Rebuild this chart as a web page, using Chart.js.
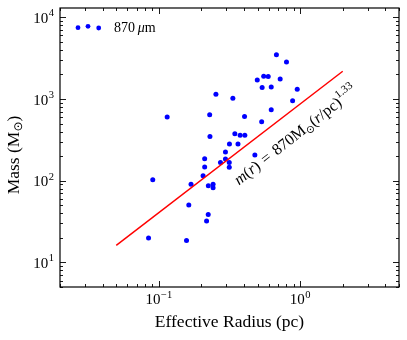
<!DOCTYPE html>
<html><head><meta charset="utf-8">
<script src="https://cdn.jsdelivr.net/npm/chart.js@4"></script>
<style>html,body{margin:0;padding:0;background:#fff}canvas{display:block}</style>
</head><body>
<canvas id="c" width="407" height="340"></canvas>
<script>
// ---- data ----
const radiusPc = [0.679, 0.800, 0.497, 0.552, 0.594, 0.722, 0.538, 0.624, 0.953, 0.2535,
  0.334, 0.884, 0.624, 0.229, 0.404, 0.1146, 0.534, 0.230, 0.345, 0.376,
  0.406, 0.316, 0.363, 0.478, 0.296, 0.211, 0.273, 0.296, 0.315, 0.211,
  0.315, 0.2056, 0.0906, 0.169, 0.224, 0.242, 0.242, 0.163, 0.2236, 0.2177,
  0.0846, 0.157];
const massMsun = [3486, 2838, 1708, 1901, 1891, 1762, 1387, 1406, 1318, 1145,
  1020, 953, 740, 642, 612, 602, 527, 348, 376, 360,
  360, 282, 282, 206, 224.6, 186, 167.5, 184.4, 167.5, 147,
  146.3, 115.1, 102.8, 90.6, 86.9, 90.6, 82.1, 50.4, 38.6, 32.1,
  19.9, 18.5];
const fitRadius = [0.05, 2.0];
const fitMass = [16.2, 2187];
const xTickExponents = [-1, 0];
const yTickExponents = [1, 2, 3, 4];
const xLimits = [0.02, 5];
const yLimits = [5, 13000];
const legendLabel = '870';

const SERIF = '"Liberation Serif", "DejaVu Serif", serif';

function expText(e) { return e < 0 ? '\u2212' + Math.abs(e) : String(e); }

function drawPow(ctx, exp, x, y, align) {
  const baseFont = '15px ' + SERIF, supFont = '10.5px ' + SERIF;
  ctx.font = baseFont; const bw = ctx.measureText('10').width;
  ctx.font = supFont; const ew = ctx.measureText(exp).width;
  const total = bw + 0.5 + ew;
  const x0 = align === 'center' ? x - total / 2 : x - total;
  ctx.textAlign = 'left'; ctx.textBaseline = 'alphabetic';
  ctx.font = baseFont; ctx.fillText('10', x0, y);
  ctx.font = supFont; ctx.fillText(exp, x0 + bw + 0.5, y - 6.5);
}

// draws a sequence of [text, font, dy] pieces starting at startX, baseline y
function drawPieces(ctx, pieces, startX, y) {
  let x = startX;
  for (const [t, f, dy] of pieces) {
    ctx.font = f; ctx.fillText(t, x, (y || 0) + dy); x += ctx.measureText(t).width;
  }
}
function piecesWidth(ctx, pieces) {
  let w = 0;
  for (const [t, f] of pieces) { ctx.font = f; w += ctx.measureText(t).width; }
  return w;
}

const decorPlugin = {
  id: 'decor',
  afterDraw(chart) {
    const ctx = chart.ctx, a = chart.chartArea;
    const xs = chart.scales.x, ys = chart.scales.y;
    ctx.save();
    ctx.strokeStyle = '#000'; ctx.fillStyle = '#000';
    // frame
    ctx.lineWidth = 1.2;
    ctx.strokeRect(a.left, a.top, a.right - a.left, a.bottom - a.top);
    // ticks
    ctx.lineWidth = 0.9;
    const MAJ = 6, MIN = 3;
    for (let d = -2; d <= 1; d++) {
      for (let k = 1; k <= 9; k++) {
        const v = k * Math.pow(10, d);
        if (v < xLimits[0] || v > xLimits[1]) continue;
        const px = Math.round(xs.getPixelForValue(v)) + 0.5;
        const L = k === 1 ? MAJ : MIN;
        ctx.beginPath();
        ctx.moveTo(px, a.bottom); ctx.lineTo(px, a.bottom - L);
        ctx.moveTo(px, a.top); ctx.lineTo(px, a.top + L);
        ctx.stroke();
      }
    }
    for (let d = 0; d <= 4; d++) {
      for (let k = 1; k <= 9; k++) {
        const v = k * Math.pow(10, d);
        if (v < yLimits[0] || v > yLimits[1]) continue;
        const py = Math.round(ys.getPixelForValue(v)) + 0.5;
        const L = k === 1 ? MAJ : MIN;
        ctx.beginPath();
        ctx.moveTo(a.left, py); ctx.lineTo(a.left + L, py);
        ctx.moveTo(a.right, py); ctx.lineTo(a.right - L, py);
        ctx.stroke();
      }
    }
    // tick labels
    for (const e of xTickExponents) {
      drawPow(ctx, expText(e), xs.getPixelForValue(Math.pow(10, e)), 304, 'center');
    }
    for (const e of yTickExponents) {
      drawPow(ctx, expText(e), 54, ys.getPixelForValue(Math.pow(10, e)) + 5.5, 'right');
    }
    // x title
    ctx.font = '17.5px ' + SERIF; ctx.textAlign = 'center'; ctx.textBaseline = 'alphabetic';
    ctx.fillText('Effective Radius (pc)', (a.left + a.right) / 2, 327);
    // y title
    ctx.save();
    ctx.translate(18.5, 155);
    ctx.rotate(-Math.PI / 2);
    ctx.textAlign = 'left';
    const yt = [['Mass (M', '17.5px ' + SERIF, 0], ['\u2299', '12px "DejaVu Sans", ' + SERIF, 3.5], [')', '17.5px ' + SERIF, 0]];
    drawPieces(ctx, yt, -piecesWidth(ctx, yt) / 2, 0);
    ctx.restore();
    // annotation
    ctx.save();
    ctx.translate(239, 185.5);
    ctx.rotate(-38 * Math.PI / 180);
    ctx.textAlign = 'left';
    const F = '16px ' + SERIF, FI = 'italic 16px ' + SERIF, FS = '11px ' + SERIF;
    const ann = [['m', FI, 0], ['(', F, 0], ['r', FI, 0], [')', F, 0], ['\u2004=\u2004', F, 0],
      ['870M', F, 0], ['\u2299', '10.5px "DejaVu Sans", ' + SERIF, 3], ['(', F, 0], ['r', FI, 0],
      ['/pc)', F, 0], ['1.33', FS, -7.5]];
    drawPieces(ctx, ann, 0, 0);
    ctx.restore();
    // legend
    ctx.fillStyle = '#0000ff';
    for (const [lx, ly] of [[78, 27.7], [88, 26.3], [98.7, 28]]) {
      ctx.beginPath(); ctx.arc(lx, ly, 2.4, 0, Math.PI * 2); ctx.fill();
    }
    ctx.fillStyle = '#000';
    ctx.textAlign = 'left';
    const LF = '14px ' + SERIF;
    drawPieces(ctx, [[legendLabel, LF, 0], ['\u2009', LF, 0], ['\u03bc', 'italic 14px ' + SERIF, 0], ['m', LF, 0]], 114, 32);
    ctx.restore();
  }
};

const chart = new Chart(document.getElementById('c'), {
  type: 'scatter',
  data: {
    datasets: [
      { data: radiusPc.map((x, i) => ({ x, y: massMsun[i] })), backgroundColor: '#0000ff',
        borderWidth: 0, pointRadius: 2.5, pointHoverRadius: 2.5, order: 2 },
      { type: 'line', data: fitRadius.map((x, i) => ({ x, y: fitMass[i] })), borderColor: '#ff0000',
        borderWidth: 1.5, pointRadius: 0, fill: false, tension: 0, order: 1 }
    ]
  },
  options: {
    responsive: false, animation: false, devicePixelRatio: 1,
    layout: { padding: { left: 0, right: 8, top: 8, bottom: 0 } },
    plugins: { legend: { display: false }, tooltip: { enabled: false } },
    scales: {
      x: { type: 'logarithmic', min: xLimits[0], max: xLimits[1],
        grid: { display: false }, border: { display: false }, ticks: { display: false },
        afterFit(s) { s.height = 53; } },
      y: { type: 'logarithmic', min: yLimits[0], max: yLimits[1],
        grid: { display: false }, border: { display: false }, ticks: { display: false },
        afterFit(s) { s.width = 60; } }
    }
  },
  plugins: [decorPlugin]
});
</script>
</body></html>
